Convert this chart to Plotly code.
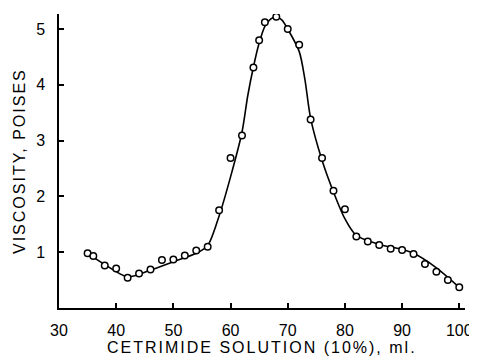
import plotly.graph_objects as go

# Measured data points (open circles)
x_points = [35, 36, 38, 40, 42, 44, 46, 48, 50, 52, 54, 56, 58, 60, 62, 64, 65, 66, 68,
            70, 72, 74, 76, 78, 80, 82, 84, 86, 88, 90, 92, 94, 96, 98, 100]
y_points = [0.98, 0.93, 0.76, 0.71, 0.54, 0.62, 0.69, 0.86, 0.87, 0.94, 1.03, 1.10, 1.75,
            2.69, 3.09, 4.31, 4.80, 5.12, 5.22, 5.00, 4.72, 3.38, 2.69, 2.10, 1.77, 1.28,
            1.19, 1.13, 1.06, 1.04, 0.97, 0.79, 0.65, 0.50, 0.37]

# Hand-drawn smooth curve
x_curve = [35, 38, 42, 46, 50, 54, 56, 58, 60, 62, 63, 64, 65, 66, 67, 68, 69, 70,
           72, 73, 74, 76, 78, 80, 82, 86, 90, 92, 96, 100]
y_curve = [0.98, 0.78, 0.56, 0.68, 0.83, 0.98, 1.12, 1.65, 2.35, 3.15, 3.8, 4.32, 4.75,
           5.05, 5.18, 5.22, 5.16, 5.0, 4.6, 4.1, 3.4, 2.65, 2.08, 1.6, 1.3, 1.14, 1.05,
           0.98, 0.72, 0.37]

x_ticks = [30, 40, 50, 60, 70, 80, 90, 100]
y_ticks = [1, 2, 3, 4, 5]

x_title = "CETRIMIDE SOLUTION (10%), ml."
y_title = "VISCOSITY, POISES"

FONT = "Liberation Sans Narrow, Liberation Sans, Arial, sans-serif"

fig = go.Figure()
fig.add_trace(go.Scatter(x=x_curve, y=y_curve, mode="lines",
                         line=dict(color="black", width=1.6, shape="spline", smoothing=0.8),
                         showlegend=False, hoverinfo="skip"))
fig.add_trace(go.Scatter(x=x_points, y=y_points, mode="markers",
                         marker=dict(symbol="circle", size=6.5, color="white",
                                     line=dict(color="black", width=1.5)),
                         showlegend=False))

# page body has an 8px margin, so the figure is sized/offset to compensate
fig.update_layout(
    width=469, height=348,
    margin=dict(l=51, r=12, t=5.5, b=47.5, autoexpand=False),
    paper_bgcolor="white", plot_bgcolor="white",
    font=dict(family=FONT, size=15, color="black"),
    xaxis=dict(range=[30, 101], tickvals=x_ticks, ticks="inside", ticklen=5,
               tickwidth=1.5, tickcolor="black", showline=True, linecolor="black",
               linewidth=1.5, showgrid=False, zeroline=False, ticklabelstandoff=7,
               automargin=False, tickfont=dict(family=FONT, size=16)),
    yaxis=dict(range=[0, 5.27], tickvals=y_ticks, ticks="inside", ticklen=5,
               tickwidth=1.5, tickcolor="black", showline=True, linecolor="black",
               linewidth=1.5, showgrid=False, zeroline=False, ticklabelstandoff=9,
               automargin=False, tickfont=dict(family=FONT, size=16)),
    annotations=[
        dict(text='<span style="letter-spacing:2px">' + x_title + '</span>',
             xref="paper", yref="paper", x=0.5, y=-0.134, xanchor="center",
             yanchor="middle", showarrow=False,
             font=dict(family="Liberation Sans, Arial, sans-serif", size=16)),
        dict(text='<span style="letter-spacing:2px">' + y_title + '</span>',
             xref="paper", yref="paper", x=-0.0985, y=0.5, xanchor="center",
             yanchor="middle", textangle=-90, showarrow=False,
             font=dict(family="Liberation Sans, Arial, sans-serif", size=16)),
    ],
)

fig.write_html("out.html")
